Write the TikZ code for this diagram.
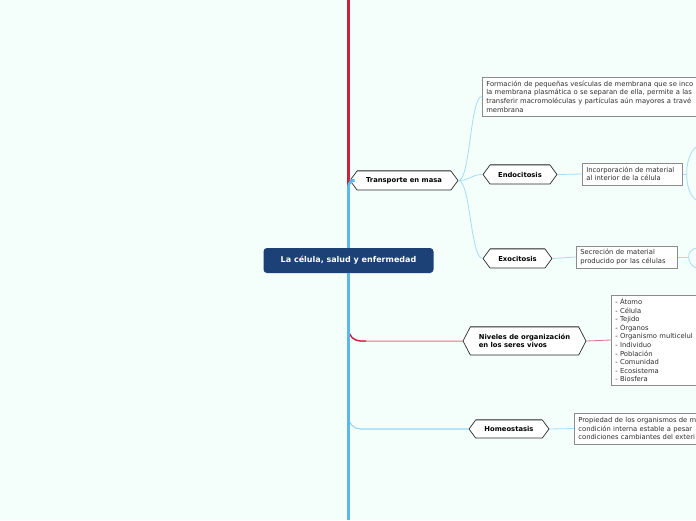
\documentclass[tikz,border=0pt]{standalone}
\usepackage{fontspec}
\setmainfont{DejaVu Sans}
\usetikzlibrary{shapes.symbols,shadows,calc}
\definecolor{bg}{HTML}{F4FFFB}
\definecolor{navy}{HTML}{1B4177}
\definecolor{mainblue}{HTML}{5CB8E6}
\definecolor{mainred}{HTML}{C8203F}
\definecolor{pinkred}{HTML}{DC7488}
\definecolor{lblue}{HTML}{A6DCF4}
\definecolor{hblue}{HTML}{9AD6F2}
\definecolor{boxedge}{HTML}{8C8C8C}
\definecolor{txt}{HTML}{2E2E2E}
\definecolor{hexedge}{HTML}{2A2A2A}
\definecolor{hextopc}{HTML}{6E6E6E}
\begin{document}
\begin{tikzpicture}[x=1pt,y=-1pt,
  central/.style={rectangle, rounded corners=3.5pt, fill=navy, text=white,
    font=\bfseries\fontsize{8}{9}\selectfont, minimum width=170pt, minimum height=25pt, inner sep=0pt},
  hexa/.style={signal, signal to=west and east, draw=hexedge, line width=0.7pt, fill=white,
    font=\bfseries\fontsize{6.8}{8.6}\selectfont, text=black, inner sep=0pt, signal pointer angle=107},
  infobox/.style={rectangle, draw=boxedge, line width=0.7pt, fill=white, text=txt,
    font=\fontsize{6.8}{8.6}\selectfont, align=left, anchor=west, inner xsep=4pt, inner ysep=0pt,
    drop shadow={shadow xshift=1pt, shadow yshift=-1pt, fill=black!25, opacity=1}},
  conn/.style={draw=lblue, line width=0.8pt},
  hextop/.style={draw=hextopc, line width=1.4pt},
  redmain/.style={draw=mainred, line width=2.2pt},
  bluemain/.style={draw=mainblue, line width=2.6pt}
]
\useasboundingbox (0,0) rectangle (696,520);
\fill[bg] (0,0) rectangle (696,520);
\clip (0,0) rectangle (696,520);

% main nodes
\node[central] (root) at (348.5,260.5) {La célula, salud y enfermedad};
\coordinate (top) at (348.5,0);
\coordinate (bottom) at (348.5,520);

\node[hexa, minimum width=108pt, minimum height=19pt] (trans) at (404,180.5) {Transporte en masa};
\node[hexa, minimum width=74pt, minimum height=19pt] (endo) at (520,174.5) {Endocitosis};
\node[hexa, minimum width=69pt, minimum height=19pt] (exo) at (517.5,258.5) {Exocitosis};
\node[hexa, minimum width=123pt, minimum height=28pt, signal pointer angle=125, align=left] (niv) at (524.5,341) {Niveles de organización\\en los seres vivos};
\node[hexa, minimum width=80pt, minimum height=18pt] (homeo) at (509,429) {Homeostasis};

\draw[hextop] ($(trans.north)+(-47,0)$) -- ($(trans.north)+(47,0)$);
\draw[hextop] ($(endo.north)+(-30,0)$) -- ($(endo.north)+(30,0)$);
\draw[hextop] ($(exo.north)+(-27.5,0)$) -- ($(exo.north)+(27.5,0)$);
\draw[hextop] ($(niv.north)+(-54.5,0)$) -- ($(niv.north)+(54.5,0)$);
\draw[hextop] ($(homeo.north)+(-33,0)$) -- ($(homeo.north)+(33,0)$);

% info boxes
\node[infobox, minimum height=39pt, text width=232pt] (form) at (482,96.5) {Formación de pequeñas vesículas de membrana que se inco\\la membrana plasmática o se separan de ella, permite a las\\transferir macromoléculas y partículas aún mayores a travé\\membrana};
\node[infobox, minimum height=22pt, text width=92pt] (endobox) at (582,174) {Incorporación de material\\al interior de la célula};
\node[infobox, minimum height=22pt, text width=93pt] (exobox) at (576,257) {Secreción de material\\producido por las células};
\node[infobox, minimum height=90pt, text width=120pt] (nivbox) at (611,340) {- Átomo\\- Célula\\- Tejido\\- Órganos\\- Organismo multicelul\\- Individuo\\- Población\\- Comunidad\\- Ecosistema\\- Biosfera};
\node[infobox, minimum height=31pt, text width=160pt] (homeobox) at (574,428.5) {Propiedad de los organismos de m\\condición interna estable a pesar\\condiciones cambiantes del exteri};

% main lines
\draw[redmain] (root.north) -- (top);
\coordinate (nivc) at (366,341);
\draw[draw=pinkred, line width=1pt, rounded corners=12pt] (root.south) |- (niv.west);
\draw[draw=mainred, line width=1.3pt, rounded corners=12pt] (root.south) |- (nivc);
\draw[draw=hblue, line width=1.1pt, rounded corners=12pt] (root.south) |- (homeo.west);
\draw[bluemain] (root.south) -- (bottom);
\draw[bluemain, rounded corners=6pt] (root.north) |- (trans.west);

% connectors
\draw[conn] (trans.east) .. controls +(12,0) and +(-12,0) .. (form.west);
\draw[conn] (trans.east) .. controls +(12,0) and +(-12,0) .. (endo.west);
\draw[conn] (trans.east) .. controls +(12,0) and +(-12,0) .. (exo.west);
\draw[conn] (endo.east) -- (endobox.west);
\draw[conn] (exo.east) -- (exobox.west);
\draw[conn] (homeo.east) -- (homeobox.west);
\draw[draw=pinkred, line width=0.8pt] (niv.east) -- (nivbox.west);

% branches leaving to the right
\coordinate (j1) at ($(endobox.east)+(4,0)$);
\coordinate (e1) at (702,145);
\coordinate (e2) at (702,202);
\draw[conn] (endobox.east) -- (j1);
\draw[conn] (j1) .. controls +(0,-18) and +(-8,0) .. (e1);
\draw[conn] (j1) .. controls +(0,18) and +(-8,0) .. (e2);
\coordinate (j2) at ($(exobox.east)+(11,0)$);
\coordinate (x1) at (704,247);
\coordinate (x2) at (704,270);
\draw[conn] (exobox.east) -- (j2);
\draw[conn] (j2) .. controls +(0,-9) and +(-6,0) .. (x1);
\draw[conn] (j2) .. controls +(0,9) and +(-6,0) .. (x2);
\end{tikzpicture}
\end{document}
